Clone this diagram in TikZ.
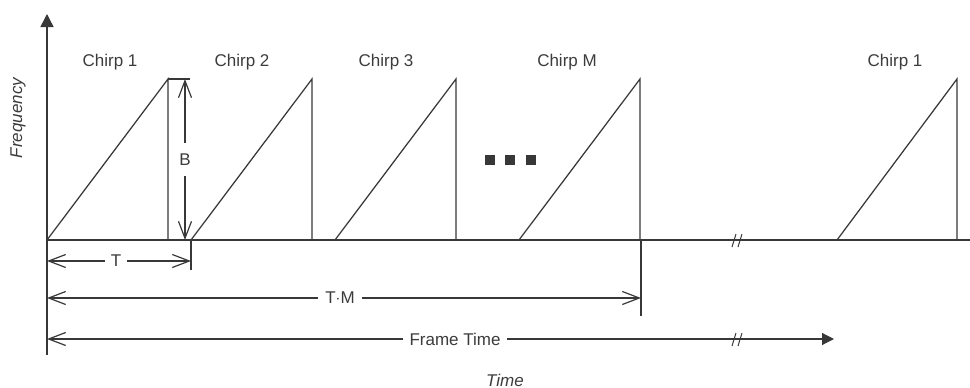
\documentclass[tikz,border=0pt]{standalone}
\usepackage{fontspec}
\setmainfont{Liberation Sans}
\usetikzlibrary{arrows.meta}
\definecolor{ink}{HTML}{383838}
\definecolor{txt}{HTML}{3C3C3C}
\tikzset{
  ln/.style={draw=ink, line width=1.4pt},
  thin/.style={draw=ink, line width=1.25pt},
  barb/.tip={Straight Barb[length=17pt,width=13pt,line width=1.2pt]},
  dimarrow/.style={draw=ink, line width=1.2pt, barb-barb},
  lbl/.style={text=txt, font=\fontsize{17}{20}\selectfont, inner sep=2pt},
  gaplbl/.style={lbl, fill=white, inner xsep=5pt},
  dotsq/.style={fill=ink, draw=none, minimum size=10pt, inner sep=0pt},
}
\begin{document}
\begin{tikzpicture}[x=1pt,y=-1pt]
\useasboundingbox (0,0) rectangle (970,388);
% axes
\coordinate (o) at (47,240);
\coordinate (ytop) at (47,14);
\coordinate (ybot) at (47,355);
\coordinate (xend) at (970,240);
\draw[ln, -{Triangle[length=13pt,width=13pt]}] (ybot) -- (ytop);
\draw[ln] (o) -- (xend);
% chirps
\foreach \n/\s/\e in {c1/47/168, c2/191/312, c3/335/456, cm/519/640, cl/837/957}{
  \coordinate (\n s) at (\s,240);
  \coordinate (\n t) at (\e,79);
  \coordinate (\n b) at (\e,240);
  \draw[thin] (\n s) -- (\n t) -- (\n b);
}
% B dimension
\coordinate (btick) at (190,79);
\draw[thin] (c1t) -- (btick);
\coordinate (btop) at (185,79);
\coordinate (bbot) at (185,240);
\draw[dimarrow] (btop) -- (bbot) node[gaplbl, midway, inner xsep=2pt, inner ysep=11pt] (B) {B};
% ticks below
\coordinate (t1a) at (191,240);
\coordinate (t1b) at (191,270);
\draw[thin] (t1a) -- (t1b);
\coordinate (t2a) at (641,240);
\coordinate (t2b) at (641,316);
\draw[thin] (t2a) -- (t2b);
% T dimension
\coordinate (ta) at (47,261);
\coordinate (tb) at (191,261);
\draw[dimarrow] (ta) -- (tb);
\node[gaplbl, inner xsep=6pt] (T) at (116,261) {T};
% T*M dimension
\coordinate (tma) at (47,298);
\coordinate (tmb) at (641,298);
\draw[dimarrow] (tma) -- (tmb);
\node[gaplbl, inner xsep=7pt] (TM) at (340,298) {T$\cdot$M};
% Frame time
\coordinate (fa) at (47,339);
\coordinate (fb) at (834,339);
\draw[draw=ink, line width=1.2pt, barb-{Triangle[length=12pt,width=12pt]}] (fa) -- (fb);
\node[gaplbl, inner xsep=7pt] (FT) at (455,339) {Frame Time};
% break marks
\foreach \y in {240,339}{
  \draw[ink, line width=1pt] (732,\y+7) -- (736,\y-6);
  \draw[ink, line width=1pt] (738,\y+7) -- (742,\y-6);
}
% dots
\node[dotsq] (d1) at (490,160) {};
\node[dotsq] (d2) at (510,160) {};
\node[dotsq] (d3) at (531,160) {};
% labels
\node[lbl] (l1) at (110,62) {Chirp 1};
\node[lbl] (l2) at (242,62) {Chirp 2};
\node[lbl] (l3) at (386,62) {Chirp 3};
\node[lbl] (lm) at (567,62) {Chirp M};
\node[lbl] (ll) at (895,62) {Chirp 1};
\node[lbl, rotate=90, font=\fontsize{17}{20}\selectfont\itshape] (fq) at (18,118) {Frequency};
\node[lbl, font=\fontsize{17}{20}\selectfont\itshape] (tm) at (505,380) {Time};
\end{tikzpicture}
\end{document}
